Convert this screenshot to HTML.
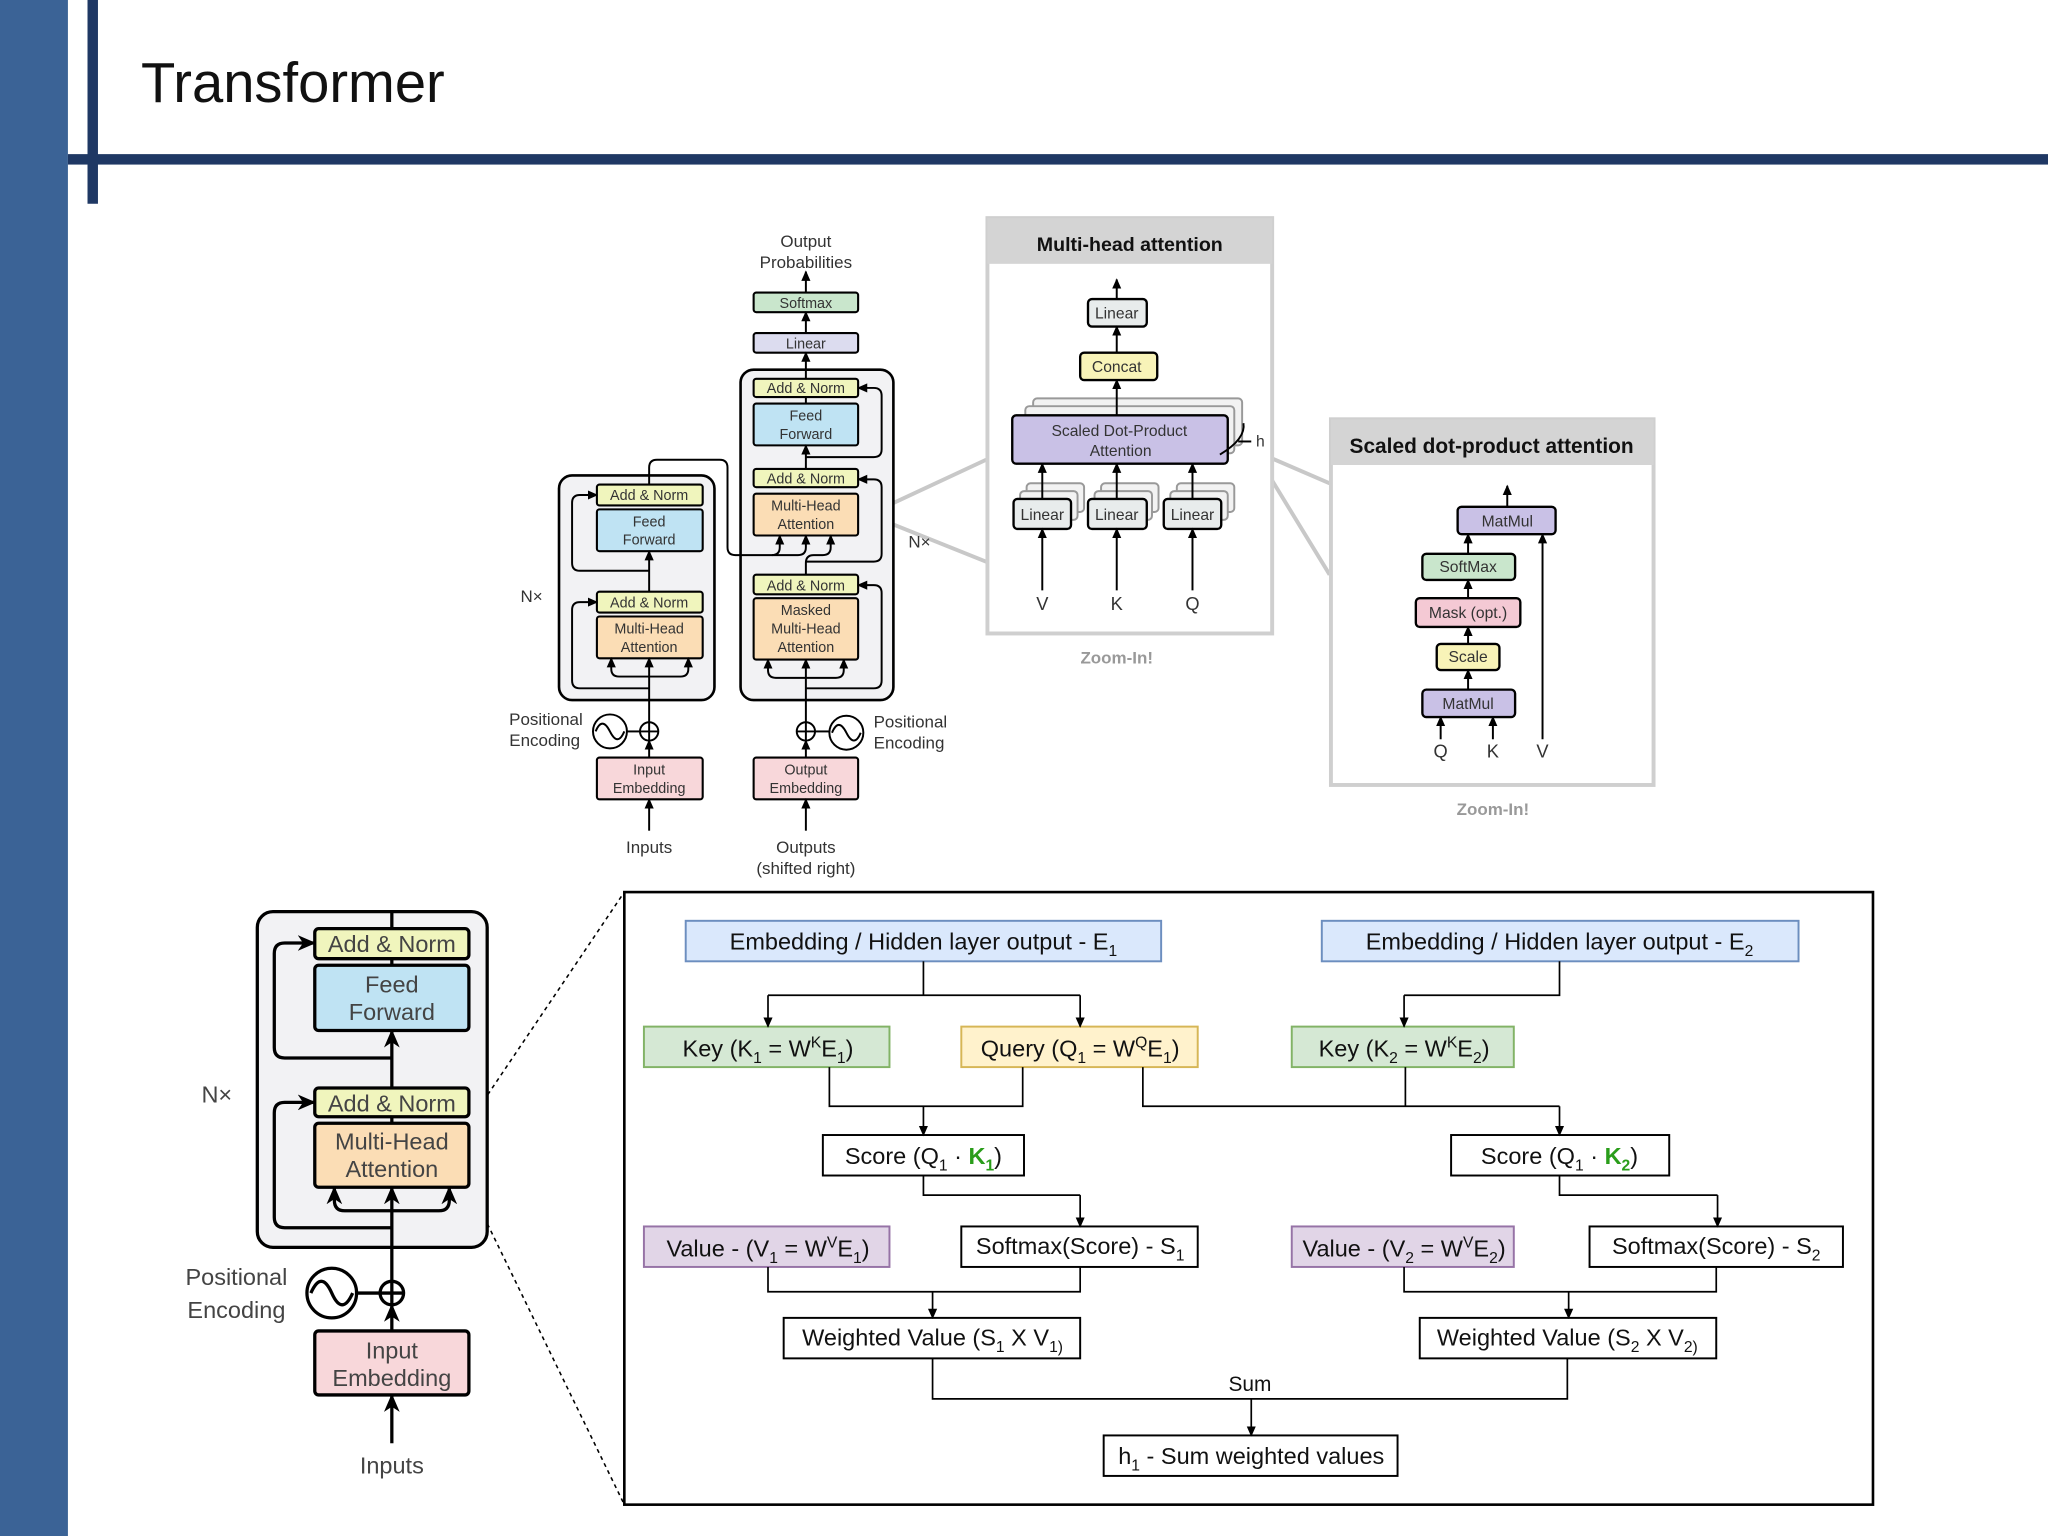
<!DOCTYPE html>
<html><head><meta charset="utf-8"><style>
html,body{margin:0;padding:0;background:#fff;}
svg{display:block;}
text{font-family:"Liberation Sans",sans-serif;}
</style></head><body>
<svg width="2048" height="1536" viewBox="0 0 1568 1176" xmlns="http://www.w3.org/2000/svg">
<defs>
<marker id="a" markerUnits="userSpaceOnUse" markerWidth="8" markerHeight="8" refX="7" refY="4" orient="auto"><path d="M0,0.5 L8,4 L0,7.5 z" fill="#000"/></marker>
<marker id="b" markerUnits="userSpaceOnUse" markerWidth="14" markerHeight="14" refX="13" refY="7" orient="auto"><path d="M0,1 L14,7 L0,13 L4,7 z" fill="#000"/></marker>
</defs>
<rect width="1568" height="1176" fill="#fff"/>
<rect x="0" y="0" width="52" height="1176" fill="#3b6396"/>
<rect x="52" y="118" width="1516" height="8" fill="#1f3864"/>
<rect x="67" y="0" width="8" height="156" fill="#1f3864"/>
<text x="108" y="78" font-size="43" fill="#111">Transformer</text>

<!-- zoom gray lines -->
<g stroke="#c8c8c8" stroke-width="3" fill="none">
<polyline points="755,352 665,394 755,430"/>
<polyline points="1018,370 960,345 1018,440"/>
</g>

<!-- top transformer -->
<g font-size="11" text-anchor="middle" fill="#333">
<rect x="428" y="364" width="119" height="172" rx="10" fill="#f2f2f4" stroke="#000" stroke-width="2"/>
<rect x="567" y="283" width="117" height="253" rx="10" fill="#f2f2f4" stroke="#000" stroke-width="2"/>
<g stroke="#000" stroke-width="1.6">
<rect x="457" y="371" width="81" height="16" rx="2" fill="#f0f5bd"/>
<rect x="457" y="390" width="81" height="32" rx="2" fill="#bfe3f3"/>
<rect x="457" y="453" width="81" height="16" rx="2" fill="#f0f5bd"/>
<rect x="457" y="472" width="81" height="32" rx="2" fill="#fbddb5"/>
<rect x="577" y="290" width="80" height="14" rx="2" fill="#f0f5bd"/>
<rect x="577" y="309" width="80" height="32" rx="2" fill="#bfe3f3"/>
<rect x="577" y="359" width="80" height="14" rx="2" fill="#f0f5bd"/>
<rect x="577" y="378" width="80" height="32" rx="2" fill="#fbddb5"/>
<rect x="577" y="440" width="80" height="15" rx="2" fill="#f0f5bd"/>
<rect x="577" y="458" width="80" height="47" rx="2" fill="#fbddb5"/>
<rect x="577" y="255" width="80" height="15" rx="2" fill="#dcdcef"/>
<rect x="577" y="224" width="80" height="15" rx="2" fill="#c9e6cc"/>
<rect x="457" y="580" width="81" height="32" rx="2" fill="#f8d7da"/>
<rect x="577" y="580" width="80" height="32" rx="2" fill="#f8d7da"/>
</g>
<g fill="none" stroke="#000" stroke-width="1.5">
<line x1="497" y1="636" x2="497" y2="612" marker-end="url(#a)"/>
<line x1="497" y1="580" x2="497" y2="567" marker-end="url(#a)"/>
<line x1="497" y1="553" x2="497" y2="504" marker-end="url(#a)"/>
<path d="M497,518 H474 Q468,518 468,512 V504" marker-end="url(#a)"/>
<path d="M497,518 H521 Q527,518 527,512 V504" marker-end="url(#a)"/>
<path d="M497,527 H444 Q438,527 438,521 V467 Q438,461 444,461 H457" marker-end="url(#a)"/>
<line x1="497" y1="453" x2="497" y2="422" marker-end="url(#a)"/>
<path d="M497,437 H444 Q438,437 438,431 V385 Q438,379 444,379 H457" marker-end="url(#a)"/>
<path d="M497,371 V358 Q497,352 503,352 H551 Q557,352 557,358 V419 Q557,425 563,425 H591 Q597,425 597,419 V410" marker-end="url(#a)"/>
<path d="M591,425 H611 Q617,425 617,419 V410" marker-end="url(#a)"/>
<path d="M617,440 V431 Q617,425 623,425 H630 Q636,425 636,419 V410" marker-end="url(#a)"/>
<line x1="617" y1="636" x2="617" y2="612" marker-end="url(#a)"/>
<line x1="617" y1="580" x2="617" y2="567" marker-end="url(#a)"/>
<line x1="617" y1="553" x2="617" y2="505" marker-end="url(#a)"/>
<path d="M617,519 H594 Q588,519 588,513 V505" marker-end="url(#a)"/>
<path d="M617,519 H640 Q646,519 646,513 V505" marker-end="url(#a)"/>
<path d="M617,527 H669 Q675,527 675,521 V454 Q675,448 669,448 H657" marker-end="url(#a)"/>
<path d="M617,430 H669 Q675,430 675,424 V373 Q675,367 669,367 H657" marker-end="url(#a)"/>
<line x1="617" y1="359" x2="617" y2="341" marker-end="url(#a)"/>
<path d="M617,350 H669 Q675,350 675,344 V303 Q675,297 669,297 H657" marker-end="url(#a)"/>
<line x1="617" y1="309" x2="617" y2="304"/>
<line x1="617" y1="290" x2="617" y2="270" marker-end="url(#a)"/>
<line x1="617" y1="255" x2="617" y2="239" marker-end="url(#a)"/>
<line x1="617" y1="224" x2="617" y2="208" marker-end="url(#a)"/>
<circle cx="497" cy="560" r="7" fill="#fff"/><path d="M490,560H504M497,553V567"/>
<circle cx="617" cy="560" r="7" fill="#fff"/><path d="M610,560H624M617,553V567"/>
<circle cx="467" cy="560" r="13" fill="#fff"/><path d="M456,560 Q461,548 467,560 T478,560"/>
<line x1="480" y1="560" x2="490" y2="560"/>
<circle cx="648" cy="561" r="13" fill="#fff"/><path d="M637,561 Q642,549 648,561 T659,561"/>
<line x1="624" y1="560" x2="635" y2="560"/>
</g>
<text x="497" y="383">Add &amp; Norm</text>
<text x="497" y="403">Feed</text><text x="497" y="417">Forward</text>
<text x="497" y="465">Add &amp; Norm</text>
<text x="497" y="485">Multi-Head</text><text x="497" y="499">Attention</text>
<text x="617" y="301">Add &amp; Norm</text>
<text x="617" y="322">Feed</text><text x="617" y="336">Forward</text>
<text x="617" y="370">Add &amp; Norm</text>
<text x="617" y="391">Multi-Head</text><text x="617" y="405">Attention</text>
<text x="617" y="452">Add &amp; Norm</text>
<text x="617" y="471">Masked</text><text x="617" y="485">Multi-Head</text><text x="617" y="499">Attention</text>
<text x="617" y="267">Linear</text>
<text x="617" y="236">Softmax</text>
<text x="497" y="593">Input</text><text x="497" y="607">Embedding</text>
<text x="617" y="593">Output</text><text x="617" y="607">Embedding</text>
<text x="617" y="189" font-size="13">Output</text><text x="617" y="205" font-size="13">Probabilities</text>
<text x="497" y="653" font-size="13">Inputs</text>
<text x="617" y="653" font-size="13">Outputs</text><text x="617" y="669" font-size="13">(shifted right)</text>
<text x="418" y="555" font-size="13">Positional</text><text x="417" y="571" font-size="13">Encoding</text>
<text x="697" y="557" font-size="13">Positional</text><text x="696" y="573" font-size="13">Encoding</text>
<text x="407" y="461" font-size="13">N×</text>
<text x="704" y="419" font-size="13">N×</text>
</g>

<!-- Multi-head attention panel -->
<rect x="756" y="167" width="218" height="318" fill="#fff" stroke="#cfcfcf" stroke-width="3"/>
<rect x="756" y="167" width="218" height="35" fill="#d4d4d4"/>
<text x="865" y="192" font-size="15" font-weight="bold" text-anchor="middle" fill="#111">Multi-head attention</text>
<g stroke="#999" stroke-width="1.5" fill="#f2f2f2">
<rect x="791" y="305" width="160" height="36" rx="3"/><rect x="785" y="311" width="160" height="36" rx="3"/>
<rect x="786" y="370" width="44" height="22" rx="3"/><rect x="843" y="370" width="44" height="22" rx="3"/><rect x="901" y="370" width="44" height="22" rx="3"/>
<rect x="781" y="376" width="44" height="22" rx="3"/><rect x="838" y="376" width="44" height="22" rx="3"/><rect x="896" y="376" width="44" height="22" rx="3"/>
</g>
<g stroke="#000" stroke-width="1.8">
<rect x="833" y="229" width="45" height="21" rx="3" fill="#e8ecec"/>
<rect x="827" y="270" width="59" height="21" rx="3" fill="#f8f3b8"/>
<rect x="775" y="318" width="165" height="37" rx="3" fill="#c9c1e6"/>
<rect x="776" y="382" width="44" height="23" rx="3" fill="#e8ecec"/>
<rect x="833" y="382" width="45" height="23" rx="3" fill="#e8ecec"/>
<rect x="891" y="382" width="44" height="23" rx="3" fill="#e8ecec"/>
</g>
<g fill="none" stroke="#000" stroke-width="1.5">
<line x1="855" y1="229" x2="855" y2="214" marker-end="url(#a)"/>
<line x1="855" y1="270" x2="855" y2="250" marker-end="url(#a)"/>
<line x1="855" y1="318" x2="855" y2="291" marker-end="url(#a)"/>
<line x1="798" y1="382" x2="798" y2="355" marker-end="url(#a)"/>
<line x1="855" y1="382" x2="855" y2="355" marker-end="url(#a)"/>
<line x1="913" y1="382" x2="913" y2="355" marker-end="url(#a)"/>
<line x1="798" y1="452" x2="798" y2="405" marker-end="url(#a)"/>
<line x1="855" y1="452" x2="855" y2="405" marker-end="url(#a)"/>
<line x1="913" y1="452" x2="913" y2="405" marker-end="url(#a)"/>
<path d="M952,324 Q954,336 934,348"/>
<line x1="948" y1="338" x2="958" y2="338"/>
</g>
<g font-size="12" text-anchor="middle" fill="#333">
<text x="855" y="244">Linear</text><text x="855" y="285">Concat</text>
<text x="857" y="334">Scaled Dot-Product</text><text x="858" y="349">Attention</text>
<text x="798" y="398">Linear</text><text x="855" y="398">Linear</text><text x="913" y="398">Linear</text>
<text x="798" y="467" font-size="14">V</text><text x="855" y="467" font-size="14">K</text><text x="913" y="467" font-size="14">Q</text>
<text x="965" y="342">h</text>
</g>
<text x="855" y="508" font-size="13" font-weight="bold" fill="#999" text-anchor="middle">Zoom-In!</text>

<!-- SDPA panel -->
<rect x="1019" y="321" width="247" height="280" fill="#fff" stroke="#cfcfcf" stroke-width="3"/>
<rect x="1019" y="321" width="247" height="35" fill="#d4d4d4"/>
<text x="1142" y="347" font-size="16" font-weight="bold" text-anchor="middle" fill="#111">Scaled dot-product attention</text>
<g stroke="#000" stroke-width="1.8">
<rect x="1116" y="388" width="75" height="21" rx="3" fill="#c9c1e6"/>
<rect x="1089" y="424" width="71" height="20" rx="3" fill="#c9e6cc"/>
<rect x="1084" y="458" width="80" height="22" rx="3" fill="#f4c9d4"/>
<rect x="1100" y="493" width="48" height="20" rx="3" fill="#f8f3b8"/>
<rect x="1089" y="528" width="71" height="21" rx="3" fill="#c9c1e6"/>
</g>
<g fill="none" stroke="#000" stroke-width="1.5">
<line x1="1154" y1="388" x2="1154" y2="372" marker-end="url(#a)"/>
<line x1="1124" y1="424" x2="1124" y2="409" marker-end="url(#a)"/>
<line x1="1124" y1="458" x2="1124" y2="444" marker-end="url(#a)"/>
<line x1="1124" y1="493" x2="1124" y2="480" marker-end="url(#a)"/>
<line x1="1124" y1="528" x2="1124" y2="513" marker-end="url(#a)"/>
<line x1="1103" y1="566" x2="1103" y2="549" marker-end="url(#a)"/>
<line x1="1143" y1="566" x2="1143" y2="549" marker-end="url(#a)"/>
<line x1="1181" y1="566" x2="1181" y2="409" marker-end="url(#a)"/>
</g>
<g font-size="12" text-anchor="middle" fill="#333">
<text x="1154" y="403">MatMul</text><text x="1124" y="438">SoftMax</text><text x="1124" y="473">Mask (opt.)</text>
<text x="1124" y="507">Scale</text><text x="1124" y="543">MatMul</text>
<text x="1103" y="580" font-size="14">Q</text><text x="1143" y="580" font-size="14">K</text><text x="1181" y="580" font-size="14">V</text>
</g>
<text x="1143" y="624" font-size="13" font-weight="bold" fill="#999" text-anchor="middle">Zoom-In!</text>

<!-- bottom-left encoder -->
<line x1="360" y1="858" x2="478" y2="683" stroke="#000" stroke-width="1.2" stroke-dasharray="3,3"/>
<line x1="360" y1="910" x2="478" y2="1152" stroke="#000" stroke-width="1.2" stroke-dasharray="3,3"/>
<rect x="197" y="698" width="176" height="257" rx="12" fill="#f2f2f4" stroke="#000" stroke-width="2.5"/>
<g stroke="#000" stroke-width="2.5">
<rect x="241" y="711" width="118" height="23" rx="3" fill="#f0f5bd"/>
<rect x="241" y="739" width="118" height="50" rx="3" fill="#bfe3f3"/>
<rect x="241" y="833" width="118" height="22" rx="3" fill="#f0f5bd"/>
<rect x="241" y="860" width="118" height="49" rx="3" fill="#fbddb5"/>
<rect x="241" y="1019" width="118" height="49" rx="3" fill="#f8d7da"/>
</g>
<g fill="none" stroke="#000" stroke-width="2.5">
<line x1="300" y1="1105" x2="300" y2="1068" marker-end="url(#b)"/>
<line x1="300" y1="1019" x2="300" y2="999" marker-end="url(#b)"/>
<line x1="300" y1="981" x2="300" y2="909" marker-end="url(#b)"/>
<path d="M300,927 H264 Q256,927 256,919 V909" marker-end="url(#b)"/>
<path d="M300,927 H336 Q344,927 344,919 V909" marker-end="url(#b)"/>
<path d="M300,940 H218 Q210,940 210,932 V852 Q210,844 218,844 H241" marker-end="url(#b)"/>
<line x1="300" y1="833" x2="300" y2="789" marker-end="url(#b)"/>
<path d="M300,810 H218 Q210,810 210,802 V730 Q210,722 218,722 H241" marker-end="url(#b)"/>
<line x1="300" y1="711" x2="300" y2="698"/>
<line x1="300" y1="739" x2="300" y2="734"/>
<line x1="300" y1="860" x2="300" y2="855"/>
<circle cx="300" cy="990" r="9" fill="#fff"/><path d="M291,990H309M300,981V999"/>
<circle cx="254" cy="990" r="19" fill="#fff"/><path d="M238,990 Q246,972 254,990 T270,990"/>
<line x1="273" y1="990" x2="291" y2="990"/>
</g>
<g font-size="18" text-anchor="middle" fill="#444">
<text x="300" y="729">Add &amp; Norm</text>
<text x="300" y="760">Feed</text><text x="300" y="781">Forward</text>
<text x="300" y="851">Add &amp; Norm</text>
<text x="300" y="880">Multi-Head</text><text x="300" y="901">Attention</text>
<text x="300" y="1040">Input</text><text x="300" y="1061">Embedding</text>
<text x="300" y="1128">Inputs</text>
<text x="181" y="984">Positional</text><text x="181" y="1009">Encoding</text>
<text x="166" y="844">N×</text>
</g>

<!-- flowchart -->
<rect x="478" y="683" width="956" height="469" fill="#fff" stroke="#000" stroke-width="2"/>
<g stroke-width="1.5">
<rect x="525" y="705" width="364" height="31" fill="#dae8fc" stroke="#6c8ebf"/>
<rect x="1012" y="705" width="365" height="31" fill="#dae8fc" stroke="#6c8ebf"/>
<rect x="493" y="786" width="188" height="31" fill="#d5e8d4" stroke="#82b366"/>
<rect x="736" y="786" width="181" height="31" fill="#fff2cc" stroke="#d6b656"/>
<rect x="989" y="786" width="170" height="31" fill="#d5e8d4" stroke="#82b366"/>
<rect x="630" y="869" width="154" height="31" fill="#fff" stroke="#000"/>
<rect x="1111" y="869" width="167" height="31" fill="#fff" stroke="#000"/>
<rect x="493" y="939" width="188" height="31" fill="#e1d5e7" stroke="#9673a6"/>
<rect x="736" y="939" width="181" height="31" fill="#fff" stroke="#000"/>
<rect x="989" y="939" width="170" height="31" fill="#e1d5e7" stroke="#9673a6"/>
<rect x="1217" y="939" width="194" height="31" fill="#fff" stroke="#000"/>
<rect x="600" y="1009" width="227" height="31" fill="#fff" stroke="#000"/>
<rect x="1087" y="1009" width="227" height="31" fill="#fff" stroke="#000"/>
<rect x="845" y="1099" width="225" height="31" fill="#fff" stroke="#000"/>
</g>
<g fill="none" stroke="#000" stroke-width="1.3">
<path d="M707,736 V762"/><path d="M588,762 H827"/>
<line x1="588" y1="762" x2="588" y2="786" marker-end="url(#a)"/>
<line x1="827" y1="762" x2="827" y2="786" marker-end="url(#a)"/>
<path d="M1194,736 V762 H1075"/>
<line x1="1075" y1="762" x2="1075" y2="786" marker-end="url(#a)"/>
<path d="M635,817 V847 H783 V817"/>
<line x1="707" y1="847" x2="707" y2="869" marker-end="url(#a)"/>
<path d="M875,817 V847 H1194"/><path d="M1076,817 V847"/>
<line x1="1194" y1="847" x2="1194" y2="869" marker-end="url(#a)"/>
<path d="M707,900 V915 H827"/>
<line x1="827" y1="915" x2="827" y2="939" marker-end="url(#a)"/>
<path d="M1194,900 V915 H1315"/>
<line x1="1315" y1="915" x2="1315" y2="939" marker-end="url(#a)"/>
<path d="M588,970 V989 H827 V970"/>
<line x1="714" y1="989" x2="714" y2="1009" marker-end="url(#a)"/>
<path d="M1075,970 V989 H1314 V970"/>
<line x1="1201" y1="989" x2="1201" y2="1009" marker-end="url(#a)"/>
<path d="M714,1040 V1071 H1200 V1040"/>
<line x1="958" y1="1071" x2="958" y2="1099" marker-end="url(#a)"/>
</g>
<g font-size="18" text-anchor="middle" fill="#111">
<text x="707" y="727">Embedding / Hidden layer output - E<tspan font-size="12" dy="5">1</tspan></text>
<text x="1194" y="727">Embedding / Hidden layer output  - E<tspan font-size="12" dy="5">2</tspan></text>
<text x="588" y="809">Key (K<tspan font-size="12" dy="5">1</tspan><tspan dy="-5"> = W</tspan><tspan font-size="12" dy="-7">K</tspan><tspan dy="7">E</tspan><tspan font-size="12" dy="5">1</tspan><tspan dy="-5">)</tspan></text>
<text x="827" y="809">Query (Q<tspan font-size="12" dy="5">1</tspan><tspan dy="-5"> = W</tspan><tspan font-size="12" dy="-7">Q</tspan><tspan dy="7">E</tspan><tspan font-size="12" dy="5">1</tspan><tspan dy="-5">)</tspan></text>
<text x="1075" y="809">Key (K<tspan font-size="12" dy="5">2</tspan><tspan dy="-5"> = W</tspan><tspan font-size="12" dy="-7">K</tspan><tspan dy="7">E</tspan><tspan font-size="12" dy="5">2</tspan><tspan dy="-5">)</tspan></text>
<text x="707" y="891">Score (Q<tspan font-size="12" dy="5">1</tspan><tspan dy="-5"> · </tspan><tspan fill="#2a9d1a" font-weight="bold">K</tspan><tspan fill="#2a9d1a" font-weight="bold" font-size="12" dy="5">1</tspan><tspan dy="-5">)</tspan></text>
<text x="1194" y="891">Score (Q<tspan font-size="12" dy="5">1</tspan><tspan dy="-5"> · </tspan><tspan fill="#2a9d1a" font-weight="bold">K</tspan><tspan fill="#2a9d1a" font-weight="bold" font-size="12" dy="5">2</tspan><tspan dy="-5">)</tspan></text>
<text x="588" y="962">Value - (V<tspan font-size="12" dy="5">1</tspan><tspan dy="-5"> = W</tspan><tspan font-size="12" dy="-7">V</tspan><tspan dy="7">E</tspan><tspan font-size="12" dy="5">1</tspan><tspan dy="-5">)</tspan></text>
<text x="827" y="960">Softmax(Score) - S<tspan font-size="12" dy="5">1</tspan></text>
<text x="1075" y="962">Value - (V<tspan font-size="12" dy="5">2</tspan><tspan dy="-5"> = W</tspan><tspan font-size="12" dy="-7">V</tspan><tspan dy="7">E</tspan><tspan font-size="12" dy="5">2</tspan><tspan dy="-5">)</tspan></text>
<text x="1314" y="960">Softmax(Score) - S<tspan font-size="12" dy="5">2</tspan></text>
<text x="714" y="1030">Weighted Value (S<tspan font-size="12" dy="5">1</tspan><tspan dy="-5"> X V</tspan><tspan font-size="12" dy="5">1)</tspan></text>
<text x="1200" y="1030">Weighted Value (S<tspan font-size="12" dy="5">2</tspan><tspan dy="-5"> X V</tspan><tspan font-size="12" dy="5">2)</tspan></text>
<text x="958" y="1121">h<tspan font-size="12" dy="5">1</tspan><tspan dy="-5"> - Sum weighted values</tspan></text>
<text x="957" y="1065" font-size="16">Sum</text>
</g>
</svg>
</body></html>
